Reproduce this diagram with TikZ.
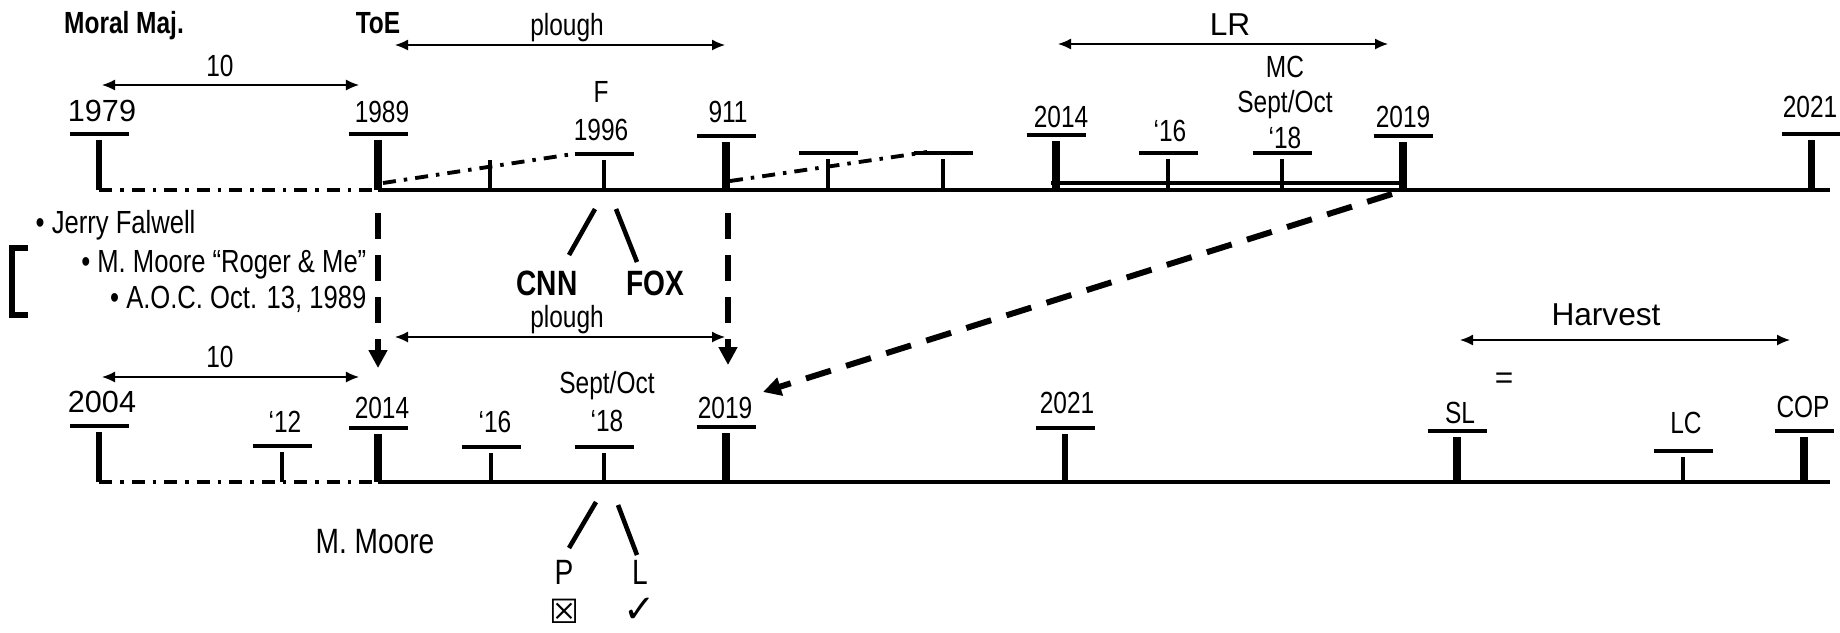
\documentclass[tikz,border=0pt]{standalone}
\usepackage{fontspec}
\setmainfont[FakeStretch=0.8]{Liberation Sans}
\newfontfamily\widefont{Liberation Sans}
\newfontfamily\symfont{DejaVu Sans}
\usetikzlibrary{arrows.meta}

\tikzset{
  lbl/.style={anchor=base, inner sep=0pt, font=\fontsize{8.7}{10}\selectfont},
  widelbl/.style={lbl, font=\fontsize{8.7}{10}\selectfont\widefont},
  boldlbl/.style={lbl, font=\fontsize{8.7}{10}\selectfont\bfseries},
  biglbl/.style={lbl, font=\fontsize{10}{12}\selectfont},
  notelbl/.style={lbl, font=\fontsize{9.1}{11}\selectfont},
  bar/.style={line width=1.4pt},
  axis/.style={line width=1.3pt},
  dashdot/.style={line width=1.1pt, dash pattern=on 1.3mm off 0.8mm on 0.35mm off 0.8mm},
  span/.style={{Latex[length=1.3mm,width=1.1mm]}-{Latex[length=1.3mm,width=1.1mm]}, line width=0.4pt},
  jump/.style={-{Triangle[length=1.8mm,width=1.8mm]}, line width=1.7pt, dash pattern=on 2.6mm off 1.6mm},
}

\begin{document}
\begin{tikzpicture}[x=0.01cm, y=-0.01cm]
\useasboundingbox (0,0) rectangle (1840,632);

% top line
\draw[axis] (378,190) -- (1830,190);
\draw[line width=1.1pt] (1051,183) -- (1403,183);
\draw[dashdot] (99,190) -- (378,190);
\draw[dashdot] (383,183) -- (573,154);
\draw[dashdot] (730,181) -- (927,152);
\foreach \x/\b/\w in {99/134/1.5pt, 378/134/2.1pt, 604/154/1.1pt, 726/136/2.1pt,
    828/153/1.1pt, 943/153/1.1pt, 1056/135/2.1pt, 1168/153/1.1pt,
    1282/153/1.1pt, 1403/136/2.1pt, 1811/134/2pt} {
  \draw[bar] (\x-29.5,\b) -- (\x+29.5,\b);
  \draw[line width=\w] (\x,\b+6) -- (\x,190);
}
\draw[line width=1.1pt] (490,160) -- (490,190);

% bottom line
\draw[axis] (378,482) -- (1830,482);
\draw[dashdot] (99,482) -- (378,482);
\foreach \x/\b/\w in {99/426/1.5pt, 282/446/1.1pt, 378/428/2.1pt, 491/447/1.1pt,
    604/447/1.1pt, 726/427/2.1pt, 1065/428/1.5pt, 1457/431/2.1pt,
    1683/451/1.1pt, 1804/431/2.1pt} {
  \draw[bar] (\x-29.5,\b) -- (\x+29.5,\b);
  \draw[line width=\w] (\x,\b+6) -- (\x,482);
}

% top labels
\node[boldlbl] (moral) at (124,33) {Moral Maj.};
\node[boldlbl] (toe) at (378,33) {ToE};
\node[lbl] (ten) at (220,76) {10};
\node[lbl] (plough) at (567,35) {plough};
\node[widelbl, font=\fontsize{9}{11}\selectfont\widefont] (lr) at (1230,35) {LR};
\node[widelbl] (y1979) at (102,121) {1979};
\node[lbl] (y1989) at (382,122) {1989};
\node[lbl] (fox1) at (601,102) {F};
\node[lbl] (y1996) at (601,140) {1996};
\node[lbl] (y911) at (728,122) {911};
\node[lbl] (y2014) at (1061,127) {2014};
\node[lbl] (y16) at (1170,141) {‘16};
\node[lbl] (mc) at (1285,77) {MC};
\node[lbl] (mcdate) at (1285,112) {Sept/Oct};
\node[lbl] (mc18) at (1285,148) {‘18};
\node[lbl] (y2019) at (1403,127) {2019};
\node[lbl] (y2021) at (1810,117) {2021};

\draw[span] (102,85) -- (359,85);
\draw[span] (395,45) -- (725,45);
\draw[span] (1058,44) -- (1388,44);

% notes
\node[notelbl, anchor=base west] (note1) at (35,233) {\textbullet\ Jerry Falwell};
\node[notelbl, anchor=base east] (note2) at (367,272) {\textbullet\ M. Moore “Roger \& Me”};
\node[notelbl, anchor=base east] (note3) at (367,308) {\textbullet\ A.O.C. Oct. 13, 1989};
\draw[line width=1.8pt] (28,248) -- (12,248) -- (12,315) -- (28,315);

\coordinate (cnntop) at (595,209);
\coordinate (cnnend) at (569,255);
\coordinate (foxtop) at (616,209);
\coordinate (foxend) at (637,262);
\draw[line width=1.3pt] (cnntop) -- (cnnend);
\draw[line width=1.3pt] (foxtop) -- (foxend);
\node[boldlbl, font=\fontsize{10}{12}\selectfont\bfseries] (cnn) at (547,295) {CNN};
\node[boldlbl, font=\fontsize{10}{12}\selectfont\bfseries] (fox) at (655,295) {FOX};

% jumps
\coordinate (j1a) at (378,213);
\coordinate (j1b) at (378,368);
\coordinate (j2a) at (728,213);
\coordinate (j2b) at (728,365);
\coordinate (j3a) at (1392,194);
\coordinate (j3b) at (763,392);
\draw[jump] (j1a) -- (j1b);
\draw[jump] (j2a) -- (j2b);
\draw[jump] (j3a) -- (j3b);

% bottom labels
\node[lbl] (ten2) at (220,367) {10};
\node[lbl] (plough2) at (567,327) {plough};
\draw[span] (102,377) -- (359,377);
\draw[span] (395,337) -- (725,337);
\node[widelbl] (y2004) at (102,412) {2004};
\node[lbl] (y12) at (285,432) {‘12};
\node[lbl] (z2014) at (382,418) {2014};
\node[lbl] (z16) at (495,432) {‘16};
\node[lbl] (sodate) at (607,393) {Sept/Oct};
\node[lbl] (z18) at (607,431) {‘18};
\node[lbl] (z2019) at (725,418) {2019};
\node[lbl] (z2021) at (1067,413) {2021};
\node[lbl] (sl) at (1460,423) {SL};
\node[lbl] (lc) at (1686,433) {LC};
\node[lbl] (cop) at (1803,417) {COP};
\node[widelbl, font=\fontsize{9}{11}\selectfont\widefont] (harvest) at (1606,325) {Harvest};
\node[widelbl, font=\fontsize{9}{11}\selectfont\widefont] (eq) at (1504,388) {=};
\draw[span] (1460,340) -- (1790,340);

\node[biglbl] (moore) at (375,553) {M. Moore};
\coordinate (ptop) at (596,502);
\coordinate (pend) at (569,548);
\coordinate (ltop) at (618,505);
\coordinate (lend) at (637,555);
\draw[line width=1.3pt] (ptop) -- (pend);
\draw[line width=1.3pt] (ltop) -- (lend);
\node[biglbl] (pp) at (564,584) {P};
\node[biglbl] (ll) at (640,584) {L};
\node[inner sep=0pt, font=\fontsize{9.5}{11}\selectfont\symfont\bfseries] (ppmark) at (564,611) {☒};
\node[inner sep=0pt, font=\fontsize{11}{13}\selectfont\symfont\bfseries] (llmark) at (640,610) {✓};
\end{tikzpicture}
\end{document}
